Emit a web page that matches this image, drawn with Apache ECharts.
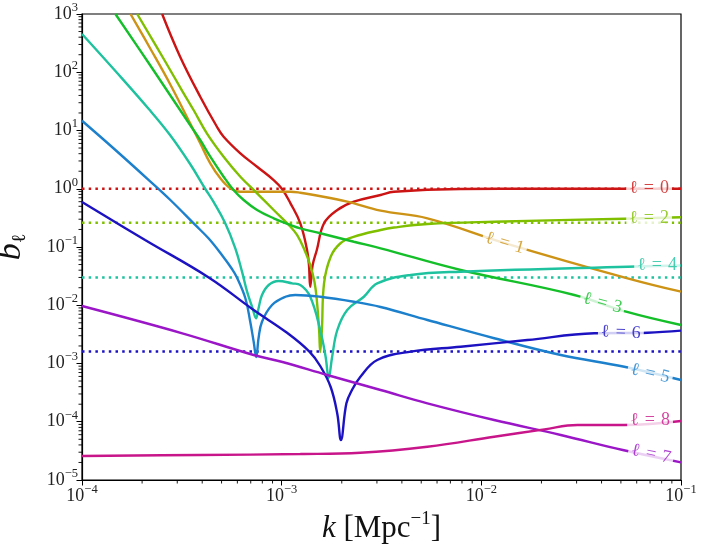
<!DOCTYPE html>
<html>
<head>
<meta charset="utf-8">
<script src="https://cdn.jsdelivr.net/npm/echarts@6/dist/echarts.min.js"></script>
<style>
  html, body {margin:0;padding:0;background:#fff;}
  #chart {width:705px;height:551px;}
</style>
</head>
<body>
<div id="chart"></div>
<script>
    // axis ranges and decade ticks
    var xTicks = [1e-4, 1e-3, 1e-2, 1e-1];
    var yTicks = [1e-5, 1e-4, 1e-3, 1e-2, 1e-1, 1, 10, 100, 1000];

    // b_l(k), pairs of [k, b]
    var curveL0 = [[2.52e-4,1000],[3.10e-4,185],[3.91e-4,38.0],[4.74e-4,11.6],[5.12e-4,7.83],[6.21e-4,4.06],
        [7.53e-4,2.39],[9.12e-4,1.41],[1.005e-3,0.99],[1.107e-3,0.562],[1.24e-3,0.255],[1.34e-3,0.0888],[1.37e-3,0.049],
        [1.39e-3,0.0208],[1.43e-3,0.049],[1.50e-3,0.0888],[1.63e-3,0.255],[1.90e-3,0.432],[2.30e-3,0.600],[3.13e-3,0.781],
        [3.65e-3,0.889],[7.88e-3,0.99],[0.02,1.0],[0.1,1.0]];
    var curveL1 = [[1.75e-4,1000],[2.19e-4,261],[2.76e-4,62.9],[3.48e-4,13.3],[3.91e-4,6.03],[4.39e-4,2.73],[4.93e-4,1.51],
        [5.53e-4,1.02],[6.21e-4,0.889],[7.53e-4,0.889],[1.107e-3,0.889],[1.24e-3,0.855],[1.45e-3,0.781],[2.13e-3,0.600],
        [3.13e-3,0.420],[5.37e-3,0.311],[0.0131,0.117],[0.054,0.029],[0.1,0.0171]];
    var curveL2 = [[1.89e-4,1000],[2.62e-4,150],[3.18e-4,47.6],[3.62e-4,22.5],[4.22e-4,8.95],[5.12e-4,3.55],[6.21e-4,1.61],
        [7.53e-4,0.836],[9.12e-4,0.432],[1.107e-3,0.223],[1.194e-3,0.161],[1.289e-3,0.0961],[1.39e-3,0.0491],[1.46e-3,0.0251],
        [1.50e-3,0.0123],[1.54e-3,3.76e-3],[1.56e-3,1.57e-3],[1.59e-3,3.76e-3],[1.63e-3,0.0238],[1.76e-3,0.0682],[1.97e-3,0.116],
        [2.29e-3,0.149],[3.13e-3,0.196],[3.65e-3,0.216],[5.37e-3,0.248],[0.0116,0.272],[0.052,0.306],[0.1,0.324]];
    var curveL3 = [[1.47e-4,1000],[2.19e-4,133],[2.76e-4,40.7],[3.48e-4,12.4],[3.91e-4,6.87],[4.39e-4,3.55],[5.12e-4,1.61],
        [5.74e-4,0.952],[6.45e-4,0.641],[7.53e-4,0.432],[9.12e-4,0.311],[1.107e-3,0.239],[1.24e-3,0.209],[1.56e-3,0.172],
        [2.30e-3,0.123],[3.13e-3,0.095],[7.88e-3,0.0403],[0.0292,0.0150],[0.0531,7.75e-3],[0.1,4.58e-3]];
    var curveL4 = [[1e-4,454],[1.47e-4,105],[2.16e-4,23.4],[2.76e-4,8.37],[3.48e-4,2.66],[4.14e-4,1.0],[4.56e-4,0.593],
        [5.19e-4,0.265],[5.86e-4,0.095],[6.33e-4,0.0377],[6.71e-4,0.0171],[7.15e-4,8.87e-3],[7.44e-4,5.97e-3],[7.66e-4,8.87e-3],
        [7.97e-4,0.0150],[8.61e-4,0.0223],[9.66e-4,0.0261],[1.127e-3,0.0238],[1.24e-3,0.0223],[1.39e-3,0.0140],[1.56e-3,3.76e-3],
        [1.66e-3,1.31e-3],[1.72e-3,5.64e-4],[1.79e-3,1.31e-3],[1.90e-3,3.76e-3],[2.13e-3,8.28e-3],[2.58e-3,0.0140],
        [3.01e-3,0.0238],[4.43e-3,0.0331],[7.88e-3,0.0377],[0.054,0.0459],[0.1,0.048]];
    var curveL5 = [[1e-4,14.7],[1.47e-4,4.63],[2.16e-4,1.41],[2.77e-4,0.641],[3.69e-4,0.239],[4.30e-4,0.141],[5.02e-4,0.0729],
        [5.64e-4,0.0419],[5.97e-4,0.030],[6.58e-4,0.0132],[6.96e-4,5.22e-3],[7.24e-4,2.37e-3],[7.46e-4,1.29e-3],[7.66e-4,2.71e-3],
        [7.97e-4,5.22e-3],[8.95e-4,0.0101],[1.044e-3,0.0140],[1.17e-3,0.0150],[1.56e-3,0.0140],[2.30e-3,0.0115],[3.13e-3,9.33e-3],
        [5.37e-3,5.58e-3],[0.0116,2.71e-3],[0.025,1.40e-3],[0.052,8.81e-4],[0.1,5.21e-4]];
    var curveL6 = [[1e-4,0.593],[2.07e-4,0.132],[4.33e-4,0.0297],[7.24e-4,8.28e-3],[1.06e-3,3.40e-3],[1.377e-3,1.6e-3],
        [1.56e-3,9.06e-4],[1.76e-3,3.95e-4],[1.90e-3,1.36e-4],[1.98e-3,4.86e-5],[2.11e-3,2.07e-4],[2.25e-3,3.51e-4],
        [2.48e-3,5.93e-4],[3.01e-3,1.15e-3],[4.43e-3,1.60e-3],[7.88e-3,1.94e-3],[0.017,2.53e-3],[0.0368,3.30e-3],
        [0.0681,3.38e-3],[0.1,3.66e-3]];
    var curveL7 = [[1e-4,9.70e-3],[3.18e-4,3.30e-3],[7.24e-4,1.40e-3],[1.01e-3,1.06e-3],[1.69e-3,6.35e-4],[3.13e-3,3.51e-4],
        [5.37e-3,2.07e-4],[0.0116,1.07e-4],[0.025,5.93e-5],[0.0511,3.27e-5],[0.1,2.01e-5]];
    var curveL8 = [[1e-4,2.58e-5],[3.9e-4,2.69e-5],[1.24e-3,2.79e-5],[2.48e-3,2.94e-5],[5.37e-3,3.73e-5],[0.0116,5.53e-5],
        [0.0207,7.41e-5],[0.0303,8.79e-5],[0.052,8.79e-5],[0.1,1.03e-4]];

    // horizontal dotted reference levels
    var dottedLevels = [1.0, 0.26, 0.030, 1.6e-3];
    var dottedOf = [0, 2, 4, 6];

    // inline labels: position [k, b] and tilt in degrees
    var labelNames = ['ℓ = 0', 'ℓ = 1', 'ℓ = 2', 'ℓ = 3', 'ℓ = 4', 'ℓ = 5', 'ℓ = 6', 'ℓ = 7', 'ℓ = 8'];
    var labelPos = [[0.0692,1.0],[0.0131,0.117],[0.0692,0.315],[0.0404,0.0109],[0.0759,0.0491],
        [0.070,6.73e-4],[0.050,3.40e-3],[0.0708,2.79e-5],[0.070,1.05e-4]];
    var labelRot = [0, -16.5, 0, -15, 0, -13, -2, -12, 0];

    var curves = [curveL0, curveL1, curveL2, curveL3, curveL4, curveL5, curveL6, curveL7, curveL8];
    var colors = ['#cc1414', '#cc9316', '#7fbf00', '#14bf2a', '#1ec29e', '#1c80cc', '#1c12c2', '#9a16c6', '#c8168a'];

    var chart = echarts.init(document.getElementById('chart'));

    function minorTicks(lo, hi) {
        var out = [];
        for (var d = lo; d < hi; d++) {
            for (var m = 2; m <= 9; m++) out.push(m * Math.pow(10, d));
        }
        return out;
    }
    function powLabel(v) {
        var e = Math.round(Math.log10(v));
        return '{b|10}{s|' + (e < 0 ? '\u2212' + (-e) : e) + '}';
    }
    var tickRich = {
        b: {fontSize: 18, lineHeight: 26, fontFamily: 'Liberation Serif', color: '#222', verticalAlign: 'middle'},
        s: {fontSize: 12.5, lineHeight: 16, fontFamily: 'Liberation Serif', color: '#222', verticalAlign: 'top'}
    };

    var series = [];
    dottedLevels.forEach(function (lv, i) {
        series.push({
            type: 'line', showSymbol: false, silent: true, z: 1,
            data: [[1e-4, lv], [0.1, lv]],
            lineStyle: {color: colors[dottedOf[i]], width: 2.5, type: [2.5, 4.2], cap: 'butt'}
        });
    });
    curves.forEach(function (c, i) {
        series.push({
            type: 'line', showSymbol: false, silent: true, z: 2, smooth: 0.4,
            data: c,
            lineStyle: {color: colors[i], width: 2.4}
        });
    });
    series.push({
        type: 'scatter', symbolSize: 1, silent: true, z: 5,
        itemStyle: {color: 'rgba(0,0,0,0)'},
        label: {show: true, position: 'inside', fontFamily: 'Liberation Serif', fontSize: 18,
            backgroundColor: '#fff', padding: [2, 3]},
        data: labelPos.map(function (p, i) {
            return {value: p, label: {formatter: labelNames[i].replace(/ /g, '\u2004'), rotate: labelRot[i], color: colors[i]}};
        })
    });

    // minor ticks (2..9 of each decade), placed through the axes' own scales
    var minorX = minorTicks(-4, -1), minorY = minorTicks(-5, 3);
    series.push({
        type: 'custom', silent: true, clip: false, z: 6,
        data: minorX.map(function (v) { return [v, 1e-5, 0]; })
            .concat(minorY.map(function (v) { return [1e-4, v, 1]; })),
        renderItem: function (params, api) {
            var p = api.coord([api.value(0), api.value(1)]);
            var shape = api.value(2) === 1
                ? {x1: p[0] - 3.5, y1: p[1], x2: p[0], y2: p[1]}
                : {x1: p[0], y1: p[1], x2: p[0], y2: p[1] + 3.5};
            return {type: 'line', shape: shape, style: {stroke: '#000', lineWidth: 0.9}};
        }
    });

    var option = {
        animation: false,
        grid: {left: 82, right: 24, top: 14, bottom: 71, containLabel: false, outerBoundsMode: 'none',
            show: true, borderColor: '#000', borderWidth: 1.2},
        xAxis: {
            type: 'log', logBase: 10, min: 1e-4, max: 0.1, position: 'bottom',
            name: '{i|k} [Mpc{s|\u22121}]', nameLocation: 'middle', nameGap: 23,
            nameTextStyle: {fontFamily: 'Liberation Serif', fontSize: 31, color: '#111',
                rich: {i: {fontStyle: 'italic', fontSize: 31, fontFamily: 'Liberation Serif', lineHeight: 38, verticalAlign: 'middle'},
                       s: {fontSize: 19, fontFamily: 'Liberation Serif', lineHeight: 22, verticalAlign: 'top'}}},
            axisLine: {lineStyle: {color: '#000', width: 1.2}},
            axisTick: {customValues: xTicks, length: 5.5, lineStyle: {color: '#000', width: 1}},
            axisLabel: {customValues: xTicks, margin: 3, formatter: powLabel, rich: tickRich},
            splitLine: {show: false}
        },
        yAxis: {
            type: 'log', logBase: 10, min: 1e-5, max: 1e3, position: 'left',
            name: '{i|b}{s|ℓ}', nameLocation: 'middle', nameGap: 52, nameRotate: 90,
            nameTextStyle: {color: '#111',
                rich: {i: {fontStyle: 'italic', fontSize: 34, fontFamily: 'Liberation Serif', lineHeight: 38, verticalAlign: 'middle'},
                       s: {fontSize: 20, fontFamily: 'Liberation Serif', lineHeight: 26, verticalAlign: 'bottom'}}},
            axisLine: {lineStyle: {color: '#000', width: 1.2}},
            axisTick: {customValues: yTicks, length: 5.5, lineStyle: {color: '#000', width: 1}},
            axisLabel: {customValues: yTicks, margin: 4, formatter: powLabel, rich: tickRich},
            splitLine: {show: false}
        },
        series: series
    };

    chart.setOption(option);

    window.onresize = function () {
        chart.resize();
    };
</script>
</body>
</html>
